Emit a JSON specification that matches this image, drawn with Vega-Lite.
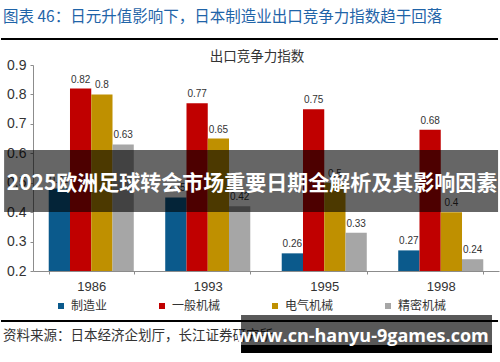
{
  "$schema": "https://vega.github.io/schema/vega-lite/v6.json",
  "padding": 0,
  "background": "white",
  "width": 466,
  "height": 206,
  "config": {"view": {"stroke": null}, "font": "Liberation Sans, Noto Sans CJK SC"},
  "resolve": {"scale": {"x": "independent", "y": "independent"}, "axis": {"x": "independent", "y": "independent"}},
  "layer": [
    {
      "data": {"values": [
        {"year": "1986", "series": "制造业", "value": 0.48},
        {"year": "1986", "series": "一般机械", "value": 0.82},
        {"year": "1986", "series": "电气机械", "value": 0.80},
        {"year": "1986", "series": "精密机械", "value": 0.63},
        {"year": "1993", "series": "制造业", "value": 0.45},
        {"year": "1993", "series": "一般机械", "value": 0.77},
        {"year": "1993", "series": "电气机械", "value": 0.65},
        {"year": "1993", "series": "精密机械", "value": 0.42},
        {"year": "1995", "series": "制造业", "value": 0.26},
        {"year": "1995", "series": "一般机械", "value": 0.75},
        {"year": "1995", "series": "电气机械", "value": 0.50},
        {"year": "1995", "series": "精密机械", "value": 0.33},
        {"year": "1998", "series": "制造业", "value": 0.27},
        {"year": "1998", "series": "一般机械", "value": 0.68},
        {"year": "1998", "series": "电气机械", "value": 0.40},
        {"year": "1998", "series": "精密机械", "value": 0.24}
      ]},
      "encoding": {
        "x": {"field": "year", "type": "nominal", "scale": {"paddingInner": 0.27, "paddingOuter": 0.135},
              "axis": {"title": null, "labelAngle": 0, "tickBand": "extent", "tickSize": 3, "domainColor": "#8c8c8c", "tickColor": "#8c8c8c", "labelColor": "#333333", "labelFontSize": 13, "labelPadding": 6}},
        "xOffset": {"field": "series", "type": "nominal", "sort": ["制造业", "一般机械", "电气机械", "精密机械"]},
        "y": {"field": "value", "type": "quantitative", "scale": {"domain": [0.2, 0.9], "zero": false, "nice": false},
              "axis": {"title": null, "values": [0.2, 0.3, 0.4, 0.5, 0.6, 0.7, 0.8, 0.9], "format": ".1f", "grid": false, "labelOverlap": false, "tickSize": 3, "domainColor": "#8c8c8c", "tickColor": "#8c8c8c", "labelColor": "#333333", "labelFontSize": 14, "labelPadding": 4}}
      },
      "layer": [
        {
          "mark": {"type": "bar"},
          "encoding": {
            "y2": {"datum": 0.2},
            "color": {"field": "series", "type": "nominal", "sort": ["制造业", "一般机械", "电气机械", "精密机械"],
                      "scale": {"domain": ["制造业", "一般机械", "电气机械", "精密机械"], "range": ["#0b5a8c", "#c00000", "#bf9000", "#a6a6a6"]},
                      "legend": {"title": null, "orient": "none", "legendX": 22, "legendY": 235, "direction": "horizontal", "symbolType": "square", "symbolSize": 36, "labelFontSize": 12, "labelColor": "#333333", "columnPadding": 48, "labelOffset": 4, "symbolStrokeWidth": 0}}
          }
        },
        {
          "mark": {"type": "text", "baseline": "bottom", "dy": -4, "fontSize": 10, "color": "#333333"},
          "encoding": {"text": {"field": "value", "type": "quantitative"}}
        }
      ]
    },
    {
      "data": {"values": [{}]},
      "encoding": {
        "x": {"datum": 0, "type": "quantitative", "scale": {"domain": [0, 1]}, "axis": null},
        "y": {"datum": 0, "type": "quantitative", "scale": {"domain": [0, 1]}, "axis": null}
      },
      "layer": [
        {
          "mark": {"type": "rect", "color": "#ffffff", "opacity": 0, "clip": false},
          "encoding": {
            "x": {"datum": -0.0687, "type": "quantitative"},
            "x2": {"datum": 1.0043},
            "y": {"datum": 1.3155, "type": "quantitative"},
            "y2": {"datum": -0.4417}
          }
        },
        {
          "mark": {"type": "text", "text": "图表 46：日元升值影响下，日本制造业出口竞争力指数趋于回落", "font": "Noto Sans CJK SC", "fontSize": 15.5, "color": "#1f64a8", "align": "left", "baseline": "middle"},
          "encoding": {
            "x": {"datum": -0.0644, "type": "quantitative"},
            "y": {"datum": 1.233, "type": "quantitative"}
          }
        },
        {
          "mark": {"type": "rule", "color": "#000000", "strokeWidth": 1.8, "opacity": 1, "clip": false},
          "encoding": {
            "x": {"datum": -0.0687, "type": "quantitative"},
            "x2": {"datum": 0.9979},
            "y": {"datum": 1.1262, "type": "quantitative"}
          }
        },
        {
          "mark": {"type": "text", "text": "出口竞争力指数", "font": "Noto Sans CJK SC", "fontSize": 13.5, "color": "#333333", "align": "center", "baseline": "middle"},
          "encoding": {
            "x": {"datum": 0.4807, "type": "quantitative"},
            "y": {"datum": 1.0388, "type": "quantitative"}
          }
        },
        {
          "mark": {"type": "rect", "color": "#000000", "opacity": 0.6, "clip": false},
          "encoding": {
            "x": {"datum": -0.062, "type": "quantitative"},
            "x2": {"datum": 0.998},
            "y": {"datum": 0.286, "type": "quantitative"},
            "y2": {"datum": 0.587}
          }
        },
        {
          "mark": {"type": "text", "text": "2025欧洲足球转会市场重要日期全解析及其影响因素", "font": "Noto Sans CJK SC", "fontWeight": "bold", "fontSize": 21, "color": "#ffffff", "align": "center", "baseline": "middle"},
          "encoding": {
            "x": {"datum": 0.47, "type": "quantitative"},
            "y": {"datum": 0.422, "type": "quantitative"}
          }
        },
        {
          "mark": {"type": "rule", "color": "#000000", "strokeWidth": 1.8, "opacity": 1, "clip": false},
          "encoding": {
            "x": {"datum": -0.0687, "type": "quantitative"},
            "x2": {"datum": 0.9979},
            "y": {"datum": -0.2427, "type": "quantitative"}
          }
        },
        {
          "mark": {"type": "text", "text": "资料来源：日本经济企划厅，长江证券研究所", "font": "Noto Sans CJK SC", "fontSize": 13.5, "color": "#333333", "align": "left", "baseline": "middle"},
          "encoding": {
            "x": {"datum": -0.0644, "type": "quantitative"},
            "y": {"datum": -0.3155, "type": "quantitative"}
          }
        },
        {
          "mark": {"type": "rect", "color": "#000000", "opacity": 0.65, "clip": false},
          "encoding": {
            "x": {"datum": 0.4464, "type": "quantitative"},
            "x2": {"datum": 0.985},
            "y": {"datum": -0.2136, "type": "quantitative"},
            "y2": {"datum": -0.3592}
          }
        },
        {
          "mark": {"type": "rect", "color": "#000000", "clip": false},
          "encoding": {
            "x": {"datum": 0.4464, "type": "quantitative"},
            "x2": {"datum": 0.985},
            "y": {"datum": -0.3592, "type": "quantitative"},
            "y2": {"datum": -0.3981}
          }
        },
        {
          "mark": {"type": "text", "text": "www.cn-hanyu-9games.com", "font": "Open Sans", "fontWeight": "bold", "fontSize": 18, "color": "#ffffff", "align": "center", "baseline": "middle"},
          "encoding": {
            "x": {"datum": 0.7071, "type": "quantitative"},
            "y": {"datum": -0.3204, "type": "quantitative"}
          }
        }
      ]
    }
  ]
}
